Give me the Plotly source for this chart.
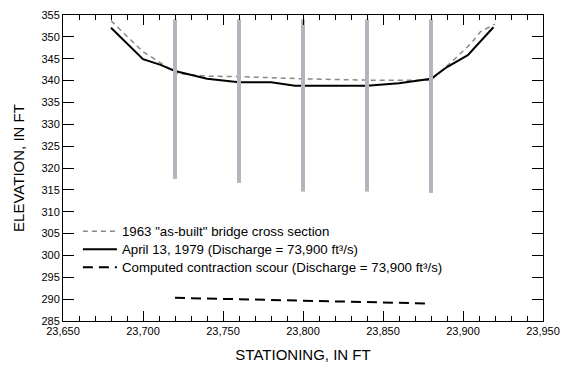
import plotly.graph_objects as go

# 1963 "as-built" bridge cross section
station_1963 = [23680, 23700, 23710, 23720, 23740, 23760, 23800, 23840, 23880, 23895, 23905, 23911, 23920]
elev_1963 = [353.7, 346.6, 344.3, 341.7, 341.0, 340.9, 340.4, 340.1, 340.1, 345.0, 348.5, 351.2, 352.9]

# April 13, 1979 cross section
station_1979 = [23680, 23700, 23711, 23720, 23740, 23760, 23780, 23795, 23840, 23860, 23880, 23890, 23903, 23911, 23919]
elev_1979 = [352.1, 344.9, 343.6, 342.2, 340.4, 339.6, 339.6, 338.8, 338.8, 339.4, 340.4, 343.1, 345.8, 349.1, 352.2]

# Computed contraction scour
scour_station = [23720, 23760, 23800, 23840, 23880]
scour_elev = [290.3, 290.0, 289.6, 289.3, 289.0]

# Piers
pier_station = [23720, 23760, 23800, 23840, 23880]
pier_top = [354.0, 354.0, 354.0, 354.0, 354.0]
pier_bottom = [317.5, 316.6, 314.6, 314.6, 314.3]

legend_names = [
    '1963 "as-built" bridge cross section',
    'April 13, 1979 (Discharge = 73,900 ft³/s)',
    'Computed contraction scour (Discharge = 73,900 ft³/s)',
]

FONT = "Liberation Sans, Arial, sans-serif"

px, py = [], []
for s, t, b in zip(pier_station, pier_top, pier_bottom):
    px += [s, s, None]
    py += [t, b, None]

fig = go.Figure()
fig.add_trace(go.Scatter(x=station_1963, y=elev_1963, mode="lines", name=legend_names[0], legend="legend",
                         line=dict(color="#888888", width=1.5, dash="5px,4px")))
fig.add_trace(go.Scatter(x=station_1979, y=elev_1979, mode="lines", name=legend_names[1], legend="legend2",
                         line=dict(color="black", width=2)))
fig.add_trace(go.Scatter(x=scour_station, y=scour_elev, mode="lines", name=legend_names[2], legend="legend3",
                         line=dict(color="black", width=2, dash="10px,6px")))
fig.add_trace(go.Scatter(x=px, y=py, mode="lines", showlegend=False, hoverinfo="skip",
                         line=dict(color="#b5b4bd", width=4)))

axis_common = dict(showline=True, linecolor="black", linewidth=1, mirror="ticks",
                   ticks="inside", tickcolor="black", tickwidth=1, showgrid=False, zeroline=False,
                   automargin=False,
                   tickfont=dict(family=FONT, size=11, color="black"))

fig.update_xaxes(range=[23650, 23950], tickmode="linear", tick0=23650, dtick=50, ticklen=10,
                 tickformat=",d",
                 minor=dict(ticks="inside", ticklen=5, dtick=10, tick0=23650, tickcolor="black"),
                 title=dict(text="STATIONING, IN FT", font=dict(family=FONT, size=15, color="black"), standoff=13),
                 **axis_common)
fig.update_yaxes(range=[285, 355], tickmode="linear", tick0=285, dtick=5, ticklen=11,
                 title=dict(text="ELEVATION, IN FT", font=dict(family=FONT, size=15, color="black"), standoff=13),
                 **axis_common)

leg_common = dict(x=0.031, xanchor="left", yanchor="middle", bgcolor="rgba(0,0,0,0)",
                  font=dict(family=FONT, size=13.3, color="black"), itemwidth=34)

fig.update_layout(
    width=569, height=365,
    margin=dict(l=63, r=26, t=15, b=44, autoexpand=False),
    paper_bgcolor="white", plot_bgcolor="white",
    font=dict(family=FONT, size=12, color="black"),
    legend=dict(y=0.2924, **leg_common),
    legend2=dict(y=0.2336, **leg_common),
    legend3=dict(y=0.1748, **leg_common),
    showlegend=True,
)

fig.write_html("out.html", config={"displayModeBar": False},
               post_script="document.body.style.margin='0px';document.body.style.overflow='hidden';")
